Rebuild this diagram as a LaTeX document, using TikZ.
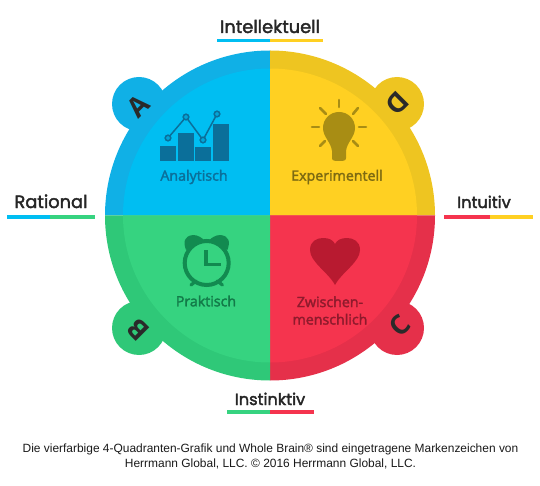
\documentclass[tikz,border=0pt]{standalone}
\usepackage{fontspec}
\setmainfont{Open Sans}
\newfontfamily\arialf{Liberation Sans}
\newfontfamily\axisf[FakeBold=2.2]{Poppins}
\newfontfamily\quadf[FakeBold=2.2]{Open Sans}
\definecolor{blueO}{HTML}{10B0E6}
\definecolor{blueI}{HTML}{00BEF2}
\definecolor{blueD}{HTML}{0B6F9A}
\definecolor{yelO}{HTML}{EEC521}
\definecolor{yelI}{HTML}{FFD022}
\definecolor{yelD}{HTML}{A88D14}
\definecolor{yelT}{HTML}{7D6A12}
\definecolor{redO}{HTML}{E5304A}
\definecolor{redI}{HTML}{F5344E}
\definecolor{redD}{HTML}{B81A30}
\definecolor{redT}{HTML}{8E1A2C}
\definecolor{grnO}{HTML}{2FC878}
\definecolor{grnI}{HTML}{36D380}
\definecolor{grnD}{HTML}{128A50}
\definecolor{grnT}{HTML}{127A48}
\definecolor{inkk}{HTML}{2A2A2A}
\tikzset{
 x=1pt,y=-1pt,
 qlabel/.style={font=\quadf\fontsize{14.2}{17.5}\selectfont,align=center,inner sep=0pt},
 axis/.style={text=black!85,inner sep=0pt,anchor=base},
 axl/.style={font=\axisf\fontsize{17.8}{20}\selectfont},
 axs/.style={font=\axisf\fontsize{16.2}{20}\selectfont},
 tabl/.style={font=\fontsize{27}{27}\selectfont\bfseries,text=inkk,inner sep=0pt},
 bar/.style={line width=3.2pt}
}
\begin{document}
\begin{tikzpicture}
\useasboundingbox (0,0) rectangle (540,486);
% tabs
\fill[blueO] (139,104) circle (27);
\fill[yelO] (397,104) circle (27);
\fill[grnO] (139,328) circle (27);
\fill[redO] (397,328) circle (27);
% outer quadrants
\fill[blueO] (270,215.5) -- (105,215.5) arc[start angle=180,end angle=90,x radius=165,y radius=-165] -- cycle;
\fill[yelO] (270,215.5) -- (270,50.5) arc[start angle=90,end angle=0,x radius=165,y radius=-165] -- cycle;
\fill[redO] (270,215.5) -- (435,215.5) arc[start angle=0,end angle=-90,x radius=165,y radius=-165] -- cycle;
\fill[grnO] (270,215.5) -- (270,380.5) arc[start angle=-90,end angle=-180,x radius=165,y radius=-165] -- cycle;
% inner quadrants
\fill[blueI] (270,215.5) -- (123,215.5) arc[start angle=180,end angle=90,x radius=147,y radius=-147] -- cycle;
\fill[yelI] (270,215.5) -- (270,68.5) arc[start angle=90,end angle=0,x radius=147,y radius=-147] -- cycle;
\fill[redI] (270,215.5) -- (417,215.5) arc[start angle=0,end angle=-90,x radius=147,y radius=-147] -- cycle;
\fill[grnI] (270,215.5) -- (270,362.5) arc[start angle=-90,end angle=-180,x radius=147,y radius=-147] -- cycle;
% tab letters
\node[tabl,rotate=45] (la) at (138,106) {A};
\node[tabl,rotate=225] (ld) at (397,103) {D};
\node[tabl,rotate=135] (lb) at (138,330) {B};
\node[tabl,rotate=45] (lc) at (400,326) {C};
% chart icon
\fill[blueD] (160,146) rectangle (176,161);
\fill[blueD] (178,133) rectangle (194,161);
\fill[blueD] (195,147) rectangle (211,161);
\fill[blueD] (213,124) rectangle (229,161);
\draw[blueD,line width=1.5pt] (168,138) -- (186,117) -- (203,140) -- (217,114);
\foreach \p in {(168,138),(186,117),(203,140),(217,114)}
  \draw[blueD,line width=1.5pt,fill=blueI!70!blueD] \p circle (2.8);
\node[qlabel,text=blueD] (t1) at (194,177) {Analytisch};
% bulb
\fill[yelD] (339,112) .. controls (348,112) and (355,119) .. (355,128)
 .. controls (355,137) and (347,142) .. (346,151) -- (346,158)
 .. controls (346,161) and (343,161) .. (339,161)
 .. controls (335,161) and (332,161) .. (332,158) -- (332,151)
 .. controls (331,142) and (323,137) .. (323,128)
 .. controls (323,119) and (330,112) .. (339,112) -- cycle;
\foreach \a/\b/\c/\d in {339/100/339/107, 320/108/326/114, 358/108/353/114, 312/127/319/127, 366/127/359/127, 320/146/325/141, 358/146/353/141}
  \draw[yelD,line width=2.6pt,line cap=round] (\a,\b) -- (\c,\d);
\node[qlabel,text=yelT] (t2) at (337,177) {Experimentell};
% clock
\fill[grnD] (186,250) .. controls (183,242) and (184,236) .. (193,235) .. controls (198,235) and (202,238) .. (204,240) -- cycle;
\fill[grnD] (227.4,250) .. controls (230.4,242) and (229.4,236) .. (220.4,235) .. controls (215.4,235) and (211.4,238) .. (209.4,240) -- cycle;
\draw[grnD,line width=4pt] (206.7,263) circle (22);
\draw[grnD,line width=3.2pt,line cap=round] (196,281) -- (191,285);
\draw[grnD,line width=3.2pt,line cap=round] (217.4,281) -- (222.4,285);
\draw[grnD,line width=3.6pt] (206,250) -- (206,264.5) -- (221,264.5);
\node[qlabel,text=grnT] (t3) at (206,301) {Praktisch};
% heart
\fill[redD] (335,285) .. controls (328,272) and (310,262) .. (310,250)
 .. controls (310,241) and (317,238) .. (323,238)
 .. controls (329,238) and (333,240) .. (335,244)
 .. controls (337,240) and (341,238) .. (347,238)
 .. controls (353,238) and (360,241) .. (360,250)
 .. controls (360,262) and (342,272) .. (335,285) -- cycle;
\node[qlabel,text=redT] (t4) at (330,310.5) {Zwischen-\\menschlich};
% axis labels
\node[axis,axl] (n1) at (270,33) {Intellektuell};
\draw[bar,blueI] (217,40.5) -- (270,40.5);
\draw[bar,yelI] (270,40.5) -- (323,40.5);
\node[axis,axl] (n2) at (51,208) {Rational};
\draw[bar,blueI] (7,217) -- (50,217);
\draw[bar,grnI] (50,217) -- (95,217);
\node[axis,axs] (n3) at (484,208) {Intuitiv};
\draw[bar,redI] (444,217) -- (490,217);
\draw[bar,yelI] (490,217) -- (533,217);
\node[axis,axs] (n4) at (270,405) {Instinktiv};
\draw[bar,grnI] (227,412) -- (270,412);
\draw[bar,redI] (270,412) -- (314,412);
% caption
\node[font=\arialf\fontsize{11.95}{14.5}\selectfont,align=center,inner sep=0pt,text=black!90] (cap) at (270.5,456.5) {Die vierfarbige 4-Quadranten-Grafik und Whole Brain® sind eingetragene Markenzeichen von\\Herrmann Global, LLC. © 2016 Herrmann Global, LLC.};
\end{tikzpicture}
\end{document}
